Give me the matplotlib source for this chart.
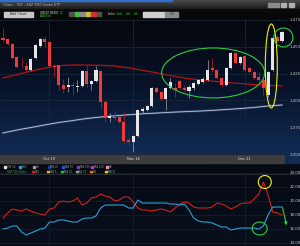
import numpy as np
import matplotlib
matplotlib.use("Agg")
import matplotlib.pyplot as plt
from matplotlib.patches import Ellipse, Rectangle
from matplotlib.colors import to_rgb

# ---------------- data ----------------
opens = [1458.2, 1457.3, 1452.6, 1440.5, 1431.2, 1432.1, 1428.4, 1439.6, 1450.7, 1457.3,
         1454.5, 1432.1, 1433.0, 1414.4, 1412.5, 1414.4, 1412.5, 1413.4, 1427.4, 1415.3,
         1418.1, 1427.4, 1398.5, 1383.6, 1384.5, 1384.5, 1379.8, 1363.1, 1361.2, 1366.8,
         1390.1, 1391.0, 1394.8, 1411.6, 1407.8, 1401.3, 1411.6, 1411.6, 1418.1, 1411.6,
         1408.8, 1411.6, 1415.3, 1417.2, 1419.0, 1430.2, 1428.4, 1420.9, 1414.4, 1430.2,
         1444.2, 1434.9, 1441.4, 1430.2, 1426.5, 1421.8, 1419.0, 1405.0, 1428.4, 1459.2,
         1455.4]
highs = [1467.5, 1458.2, 1453.5, 1441.4, 1440.5, 1435.8, 1439.6, 1452.6, 1458.2, 1460.1,
         1455.4, 1433.9, 1433.0, 1420.0, 1421.8, 1417.2, 1419.0, 1428.4, 1433.0, 1419.0,
         1432.1, 1428.4, 1400.4, 1388.3, 1389.2, 1385.4, 1389.2, 1365.9, 1367.8, 1391.5,
         1393.9, 1395.7, 1412.5, 1412.5, 1408.8, 1412.5, 1420.9, 1416.2, 1419.0, 1413.4,
         1414.4, 1417.2, 1420.0, 1421.8, 1437.7, 1439.6, 1429.3, 1421.8, 1431.2, 1445.1,
         1445.1, 1441.4, 1442.4, 1431.2, 1427.4, 1426.5, 1420.0, 1427.4, 1460.1, 1461.0,
         1464.7]
lows = [1454.5, 1451.7, 1438.6, 1430.2, 1430.2, 1425.6, 1427.4, 1438.6, 1449.8, 1449.8,
        1431.2, 1421.8, 1409.7, 1406.9, 1407.8, 1405.0, 1407.8, 1412.5, 1412.5, 1409.7,
        1417.2, 1392.9, 1379.8, 1379.8, 1381.7, 1378.9, 1360.3, 1358.4, 1351.9, 1365.9,
        1388.3, 1390.1, 1393.9, 1406.9, 1400.4, 1391.0, 1410.6, 1403.2, 1410.6, 1408.8,
        1402.2, 1409.7, 1414.4, 1416.2, 1418.1, 1426.5, 1420.0, 1412.5, 1413.4, 1429.3,
        1433.9, 1433.9, 1427.4, 1425.6, 1420.0, 1417.2, 1405.0, 1403.2, 1427.4, 1454.5,
        1454.5]
closes = [1456.3, 1452.6, 1439.6, 1431.2, 1430.7, 1428.4, 1438.6, 1451.7, 1457.3, 1454.5,
          1432.1, 1431.2, 1414.4, 1410.6, 1414.4, 1413.4, 1413.4, 1427.4, 1415.3, 1418.1,
          1428.4, 1398.5, 1383.6, 1385.4, 1384.0, 1379.8, 1362.1, 1361.2, 1366.8, 1391.0,
          1392.0, 1394.8, 1411.6, 1407.8, 1401.3, 1411.6, 1417.2, 1409.7, 1411.6, 1409.7,
          1412.5, 1416.2, 1419.0, 1420.0, 1428.4, 1428.4, 1420.9, 1414.4, 1430.2, 1444.2,
          1434.9, 1440.5, 1428.4, 1426.5, 1420.9, 1419.0, 1411.6, 1426.5, 1458.2, 1455.4,
          1463.8]

ma_idx = list(range(0, 61, 3))
ma_red = [1420.9, 1424.2, 1427.4, 1430.2, 1432.4, 1433.0, 1433.0, 1432.7, 1432.1, 1430.4,
          1428.1, 1425.8, 1423.2, 1420.9, 1419.3, 1418.0, 1416.7, 1415.8, 1414.8, 1414.1,
          1413.4]
ma_gray = [1369.6, 1372.4, 1374.7, 1377.1, 1379.4, 1381.2, 1383.1, 1384.5, 1385.6, 1386.6,
           1387.5, 1388.2, 1388.9, 1389.5, 1390.0, 1390.7, 1391.5, 1392.4, 1393.4, 1394.8,
           1395.7]

lower_red = [17.57, 18.29, 18.86, 18.71, 18.57, 18.86, 18.57, 18.29, 18.14, 18.00,
             18.86, 19.00, 19.86, 20.00, 19.86, 20.00, 20.43, 19.43, 19.71, 20.43,
             20.57, 21.00, 20.71, 20.57, 20.00, 20.14, 20.57, 20.57, 19.86, 19.00,
             18.71, 18.71, 18.57, 18.71, 18.86, 18.71, 18.43, 19.00, 19.57, 19.86,
             19.71, 19.14, 19.00, 19.00, 19.00, 19.14, 19.71, 19.57, 19.29, 18.86,
             19.14, 19.57, 19.71, 19.71, 20.29, 21.00, 22.71, 20.86, 18.43, 18.29,
             18.00]
lower_blue = [16.00, 16.14, 16.43, 16.43, 15.57, 15.14, 15.43, 15.71, 16.00, 16.14,
              17.00, 17.00, 17.29, 17.29, 17.14, 17.00, 17.00, 17.43, 17.57, 17.57,
              17.86, 19.00, 19.43, 19.43, 19.43, 19.43, 19.43, 19.00, 19.00, 20.14,
              19.71, 19.71, 19.71, 19.71, 19.71, 19.71, 19.57, 19.57, 19.43, 19.57,
              18.71, 17.57, 17.14, 17.00, 17.00, 16.86, 16.57, 16.29, 16.29, 15.86,
              16.00, 16.14, 16.14, 16.14, 16.14, 16.00, 16.43, 18.00, 19.14, 19.14,
              19.14]

price_ticks = [1350, 1375, 1400, 1425, 1450, 1475]
price_labels = ['1,350', '1,375', '1,400', '1,425', '1,450', '1,475']
lower_ticks = [14, 16, 18, 20, 22, 24]
lower_labels = ['14.00', '16.00', '18.00', '20.00', '22.00', '24.00']
date_ticks = [10, 28, 52]
date_labels = ['Oct 19', 'Nov 16', 'Dec 21']

legend_row1 = [('#e0e0e0', 'VIX 1d'), ('#2a9fd6', 'VXV'), ('#9a9a9a', 'Vol'), ('#1e3ca8', 'MA 20'),
               ('#3050d0', 'MA 50'), ('#7a3cc8', 'MA 100'), ('#c030c0', 'MA 200'), ('#e090b0', 'BB')]
legend_row2 = [('#d42020', 'SPX'), ('#d0c020', 'MA 5'), ('#30c030', 'MA 10'),
               ('#9a9a9a', 'MA 30'), ('#e07a10', 'RSI'), ('#e0d020', 'MACD')]

# ---------------- figure ----------------
W, H = 300, 246
fig = plt.figure(figsize=(3.0, 2.46), dpi=100)
fig.patch.set_facecolor('#05080e')


def rect(x0, y0, x1, y1):
    return [x0 / W, 1 - y1 / H, (x1 - x0) / W, (y1 - y0) / H]


bg = fig.add_axes([0, 0, 1, 1])
bg.axis('off')


def grad(x0, y0, x1, y1, stops):
    t = np.linspace(0, 1, 128)
    fr = [s[0] for s in stops]
    cols = np.array([to_rgb(s[1]) for s in stops])
    arr = np.stack([np.interp(t, fr, cols[:, k]) for k in range(3)], axis=-1)[:, None, :]
    bg.imshow(arr, extent=(x0, x1, y1, y0), aspect='auto', interpolation='bilinear', zorder=0)


# title bar / toolbar / panels
grad(0, 0, W, 9, [(0, '#4a4a4a'), (1, '#1c1c1c')])
bg.add_patch(Rectangle((0, 0), 172, 1.3, color='#2f6fd0', zorder=2))
grad(0, 9, W, 19, [(0, '#0c0c0c'), (1, '#060606')])
grad(0, 19, W, 155, [(0, '#05070d'), (0.5, '#08132a'), (1, '#112b55')])
bg.add_patch(Rectangle((0, 155), 285, 8, color='#3d3d3d', zorder=2))
bg.add_patch(Rectangle((285, 155), 15, 8, color='#102a52', zorder=2))
grad(0, 163, W, 174, [(0, '#070b12'), (1, '#070b12')])
grad(0, 174, W, H, [(0, '#060b15'), (1, '#08101c')])
bg.plot([0, W], [173.5, 173.5], color='#2a3038', lw=0.6, zorder=3)

# title text and window icons
bg.text(3, 5, 'Chart - VIX - S&P 500 Index ETF', color='#b8b8b8', fontsize=2.6,
        va='center', ha='left', zorder=3)
for k, xi in enumerate([268, 274, 281, 289]):
    bg.add_patch(Rectangle((xi, 3), 4.5, 3.6, color='#8a8a8a' if k < 2 else '#b0b0b0', zorder=3))

# toolbar
bg.add_patch(Rectangle((4, 11.5), 29, 5, color='#c8c8c8', zorder=3))
bg.text(18.5, 14, 'Add Chart', color='#303030', fontsize=2.4, ha='center', va='center', zorder=4)
bg.text(40, 12.8, 'UNDO REDO', color='#d0d0d0', fontsize=2.2, ha='left', va='center', zorder=4)
bg.text(59, 12.8, 'Y2', color='#3cc03c', fontsize=2.2, ha='left', va='center', zorder=4)
bg.text(40, 16.3, 'Add/Edit', color='#3cc03c', fontsize=2.2, ha='left', va='center', zorder=4)
for xi, c in zip([69, 74.5, 80, 85.5, 91, 96.5], ['#505050', '#3cbf3c', '#8a8a8a', '#c8c040', '#d83030', '#505050']):
    bg.add_patch(Rectangle((xi, 11.8), 4.5, 4.5, color=c, zorder=3))
bg.text(108, 14, 'Links:', color='#d0d0d0', fontsize=2.2, ha='left', va='center', zorder=4)
for xi, t in zip([117, 126, 134], ['Link', 'Lnk', 'Lnk']):
    bg.text(xi, 14, t, color='#3cc03c', fontsize=2.2, ha='left', va='center', zorder=4)
bg.add_patch(Rectangle((143, 11.5), 22, 5, color='#d0d0d0', zorder=3))
bg.add_patch(Rectangle((165, 11.5), 13, 5, color='#8a8a8a', zorder=3))
bg.text(171.5, 14, '1D', color='#202020', fontsize=2.4, ha='center', va='center', zorder=4)

# legend strip
for k, (c, t) in enumerate(legend_row1):
    x0 = 4 + 14.5 * k
    bg.add_patch(Rectangle((x0, 166.3), 2, 2, color=c, zorder=3))
    bg.text(x0 + 3, 167.3, t, color='#7f9a7f', fontsize=1.9, ha='left', va='center', zorder=4)
bg.text(7, 171.8, 'S&P 500 Index', color='#3cb03c', fontsize=1.9, ha='left', va='center', zorder=4)
for k, (c, t) in enumerate(legend_row2):
    x0 = 32 + 14.5 * k
    bg.add_patch(Rectangle((x0, 170.8), 2, 2, color=c, zorder=3))
    bg.text(x0 + 3, 171.8, t, color='#7f9a7f', fontsize=1.9, ha='left', va='center', zorder=4)

bg.set_xlim(0, W)
bg.set_ylim(H, 0)

# ---------------- main price panel ----------------
x0_idx = -0.645
x1_idx = 61.29
ax = fig.add_axes(rect(0, 19, 288, 155))
ax.set_facecolor('none')
for s in ax.spines.values():
    s.set_visible(False)
ax.set_xlim(x0_idx, x1_idx)
ax.set_ylim(1349.07, 1475.93)

idx = np.arange(len(opens))
o = np.array(opens); c = np.array(closes); h = np.array(highs); lo = np.array(lows)
up = c >= o
body_col = np.where(up, '#e6e6e6', '#f03a3a')
wick_col = np.where(up, '#9a9a9a', '#a82020')
ax.vlines(idx, lo, h, colors=wick_col, lw=0.55, zorder=3)
ax.bar(idx, np.maximum(np.abs(c - o), 0.9), bottom=np.minimum(o, c), width=0.65,
       color=body_col, linewidth=0, zorder=4)

ax.plot(ma_idx, ma_gray, color='#5a6a90', lw=1.6, alpha=0.5, zorder=2)
ax.plot(ma_idx, ma_gray, color='#b8c4e0', lw=0.6, zorder=2)
ax.plot(ma_idx, ma_red, color='#b01414', lw=0.9, zorder=2)

ax.set_yticks(price_ticks)
ax.set_yticklabels(price_labels)
ax.yaxis.tick_right()
ax.tick_params(axis='y', length=0, pad=1.3, labelsize=2.8, labelcolor='#c8c8c8')
ax.set_xticks(date_ticks)
ax.set_xticklabels([])
ax.tick_params(axis='x', length=0)
ax.grid(True, color='#1a2536', lw=0.6)
ax.set_axisbelow(True)

ax.add_patch(Ellipse((45.2, 1425.6), 22.15, 46.6, fill=False, ec='#2ecc40', lw=0.8, zorder=6))
ax.add_patch(Ellipse((57.7, 1432.1), 2.58, 78.4, fill=False, ec='#f2f000', lw=0.8, zorder=6))
ax.add_patch(Ellipse((60.3, 1458.7), 4.09, 17.7, fill=False, ec='#2ecc40', lw=0.8, zorder=6,
                     clip_on=False))

# date bar labels
dax = fig.add_axes(rect(0, 155, 288, 163))
dax.set_facecolor('none')
dax.axis('off')
dax.set_xlim(x0_idx, x1_idx)
dax.set_ylim(0, 1)
for dx, lab in zip(date_ticks, date_labels):
    dax.text(dx, 0.5, lab, color='#e0e0e0', fontsize=2.6, ha='center', va='center')

# ---------------- lower panel ----------------
lax = fig.add_axes(rect(0, 173, 288, 246))
lax.set_facecolor('none')
for s in lax.spines.values():
    s.set_visible(False)
lax.set_xlim(x0_idx, x1_idx)
lax.set_ylim(13.571, 24.0)
lax.plot(idx, lower_red, color='#d41e1e', lw=0.8, zorder=3)
lax.plot(idx, lower_blue, color='#2a9fd6', lw=0.8, zorder=3)
lax.set_yticks(lower_ticks)
lax.set_yticklabels(lower_labels)
lax.yaxis.tick_right()
lax.tick_params(axis='y', length=0, pad=1.3, labelsize=2.8, labelcolor='#c8c8c8')
lax.set_xticks(date_ticks)
lax.set_xticklabels([])
lax.tick_params(axis='x', length=0)
lax.grid(True, color='#161e2a', lw=0.6)
lax.set_axisbelow(True)

lax.add_patch(Ellipse((56.3, 22.71), 2.8, 1.86, fill=False, ec='#f2f000', lw=0.8, zorder=5))
lax.add_patch(Ellipse((55.2, 16.07), 3.23, 1.86, fill=False, ec='#2ecc40', lw=0.8, zorder=5))
lax.annotate('', xy=(61.1, 16.14), xytext=(60.0, 19.43),
             arrowprops=dict(arrowstyle='-|>', color='#2ecc40', lw=0.8, mutation_scale=4),
             annotation_clip=False, zorder=5)

fig.savefig('out.png', dpi=100, facecolor=fig.get_facecolor())
